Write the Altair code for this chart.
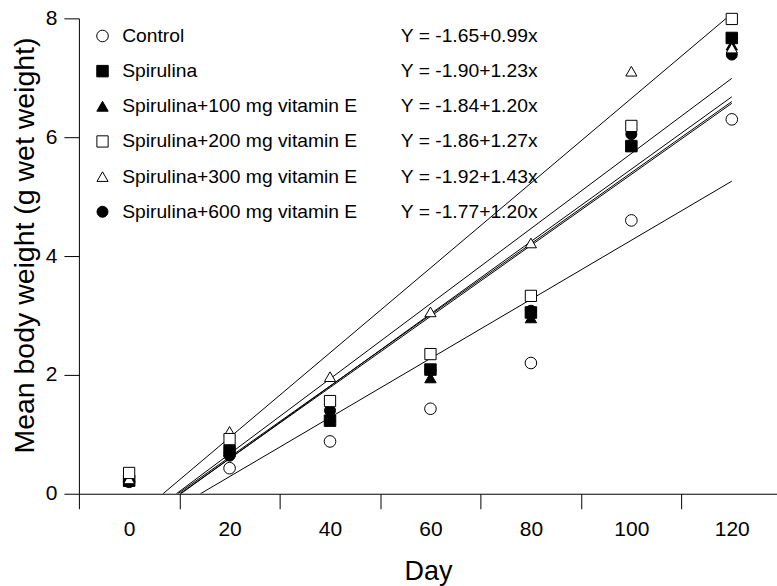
import altair as alt
import pandas as pd

series = [
    "Control",
    "Spirulina",
    "Spirulina+100 mg vitamin E",
    "Spirulina+200 mg vitamin E",
    "Spirulina+300 mg vitamin E",
    "Spirulina+600 mg vitamin E",
]
equations = [
    "Y = -1.65+0.99x",
    "Y = -1.90+1.23x",
    "Y = -1.84+1.20x",
    "Y = -1.86+1.27x",
    "Y = -1.92+1.43x",
    "Y = -1.77+1.20x",
]
days = [0, 20, 40, 60, 80, 100, 120]
control = [0.20, 0.43, 0.88, 1.43, 2.20, 4.60, 6.30]
spirulina = [0.22, 0.72, 1.23, 2.09, 3.05, 5.85, 7.67]
vit100 = [0.22, 0.77, 1.30, 1.95, 2.96, 5.85, 7.55]
vit200 = [0.35, 0.92, 1.56, 2.35, 3.33, 6.19, 7.99]
vit300 = [0.25, 1.05, 1.97, 3.06, 4.22, 7.11, 7.50]
vit600 = [0.21, 0.64, 1.40, 2.08, 3.08, 6.05, 7.39]

# regression lines: start day (at y = 0) and value at day 120
line_start_day = [14.2, 10.3, 10.1, 9.4, 6.75, 9.7]
line_end_day = [120, 120, 120, 120, 120, 120]
line_end_value = [5.26, 6.68, 6.57, 6.99, 8.08, 6.60]

shapes = ["circle", "square", "triangle-up", "square", "triangle-up", "circle"]
fills = ["white", "black", "black", "white", "white", "black"]
strokes = ["black", "black", "black", "black", "black", "black"]
sizes = [135, 121, 225, 121, 225, 135]

draw_order = [0, 1, 2, 5, 4, 3]
values = [control, spirulina, vit100, vit200, vit300, vit600]

rows = []
for i in draw_order:
    for d, v in zip(days, values[i]):
        rows.append({"series": series[i], "equation": equations[i], "day": d, "weight": v})
pts = pd.DataFrame(rows)

lrows = []
for i, s in enumerate(series):
    lrows.append({"series": s, "day": line_start_day[i], "weight": 0.0})
    lrows.append({"series": s, "day": line_end_day[i], "weight": line_end_value[i]})
lines_df = pd.DataFrame(lrows)

FONT = "Liberation Sans"
LEG_FS = 19.3

x_enc = alt.X(
    "day:Q",
    scale=alt.Scale(domain=[-10, 129], nice=False, zero=False),
    axis=alt.Axis(
        values=list(range(-10, 130, 10)),
        labelExpr="datum.value % 20 == 0 ? datum.label : ''",
        tickOpacity={"condition": {"test": "datum.value % 20 == 0", "value": 0}, "value": 1},
        labelPadding=10,
        title="Day",
        titleY=86,
        titleBaseline="alphabetic",
    ),
)
y_enc = alt.Y(
    "weight:Q",
    scale=alt.Scale(domain=[0, 8], nice=False),
    axis=alt.Axis(
        values=[0, 2, 4, 6, 8],
        labelPadding=7,
        title="Mean body weight (g wet weight)",
        titleX=-45,
        titleY=227,
        titleFontSize=28.5,
        titleBaseline="alphabetic",
        titleAngle=270,
    ),
)

lines = alt.Chart(lines_df).mark_line(color="black", strokeWidth=1, clip=True).encode(
    x=x_enc, y=y_enc, detail="series:N"
)

legend_main = alt.Legend(
    title=None,
    orient="none",
    legendX=14,
    legendY=8,
    padding=0,
    labelFont=FONT,
    labelFontSize=LEG_FS,
    labelColor="black",
    labelOffset=10,
    labelLimit=0,
    rowPadding=15.2,
    symbolStrokeWidth=1,
)
legend_eq = alt.Legend(
    title=None,
    orient="none",
    legendX=303,
    legendY=8,
    padding=0,
    labelFont=FONT,
    labelFontSize=LEG_FS,
    labelColor="black",
    labelOffset=0,
    labelLimit=0,
    rowPadding=15.2,
    symbolSize=0,
    symbolOpacity=0,
)

points = alt.Chart(pts).mark_point(filled=True, strokeWidth=1, opacity=1).encode(
    x=x_enc,
    y=y_enc,
    shape=alt.Shape("series:N", scale=alt.Scale(domain=series, range=shapes), legend=legend_main),
    fill=alt.Fill("series:N", scale=alt.Scale(domain=series, range=fills), legend=legend_main),
    stroke=alt.Stroke("series:N", scale=alt.Scale(domain=series, range=strokes), legend=legend_main),
    size=alt.Size("series:N", scale=alt.Scale(domain=series, range=sizes), legend=legend_main),
    opacity=alt.Opacity("equation:O", sort=equations, scale=alt.Scale(domain=equations, range=[1, 1, 1, 1, 1, 1]), legend=legend_eq),
)

chart = alt.layer(lines, points).properties(
    width=699,
    height=476,
    autosize=alt.AutoSizeParams(type="none"),
    padding={"left": 79, "top": 18, "right": 0, "bottom": 92},
    background="white",
).configure_view(stroke=None).configure_axis(
    grid=False,
    domainColor="black",
    domainWidth=1,
    tickColor="black",
    tickWidth=1,
    tickSize=15,
    labelFont=FONT,
    labelFontSize=21,
    labelColor="black",
    titleFont=FONT,
    titleFontSize=27,
    titleFontWeight="normal",
    titleColor="black",
)

chart.save("out.html", embed_options={"renderer": "svg", "actions": False})
